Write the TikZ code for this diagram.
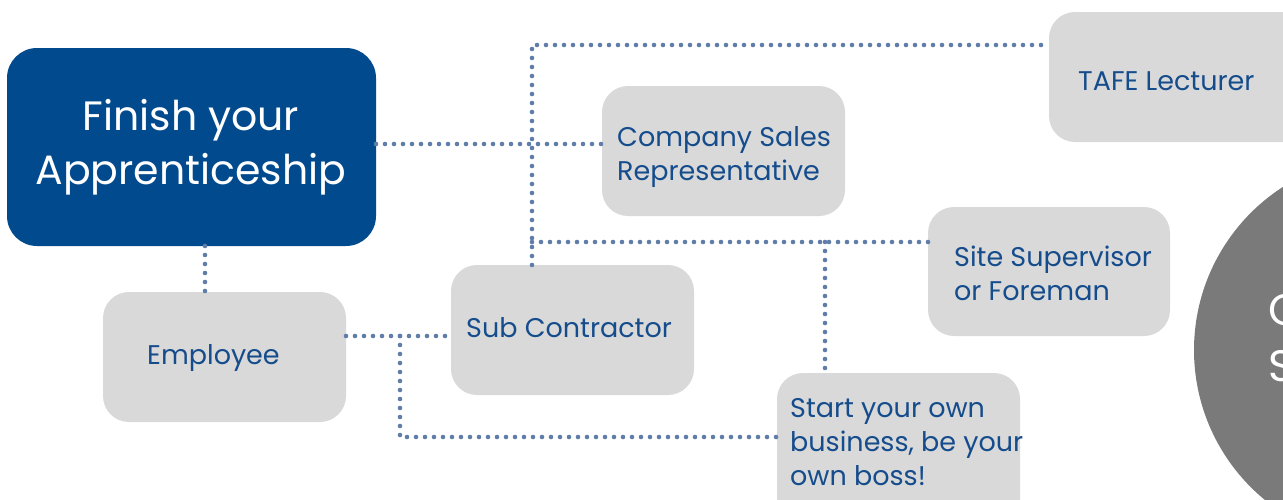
\documentclass[tikz,border=0pt]{standalone}
\usepackage{fontspec}
\setmainfont{Poppins}
\definecolor{navy}{HTML}{024A8E}
\definecolor{txtblue}{HTML}{154C8C}
\definecolor{boxgray}{HTML}{D9D9D9}
\definecolor{dotblue}{HTML}{5F7DA8}
\definecolor{circgray}{HTML}{7A7A7A}
\begin{document}
\begin{tikzpicture}[x=1pt,y=-1pt,
  mainbox/.style={fill=navy,rounded corners=30pt},
  graybox/.style={fill=boxgray,rounded corners=26pt},
  graytext/.style={text=txtblue,font=\fontsize{27}{34}\selectfont,anchor=west,inner sep=0,align=left},
  circtext/.style={anchor=west,text=white,font=\fontsize{44}{50}\selectfont,inner sep=0},
  dots/.style={draw=dotblue,line width=4.6pt,line cap=round,dash pattern=on 0pt off 9pt}]
\useasboundingbox (0,0) rectangle (1283,499);
\clip (0,0) rectangle (1283,499);
% circle
\fill[circgray] (1388,350) circle (194);
\node[circtext] (c1) at (1268,310) {C};
\node[circtext] (c2) at (1268,366) {S};
% boxes
\path[mainbox] (7,48) rectangle (376,246);
\node[text=white,font=\fontsize{41}{54}\selectfont,align=center,inner sep=0] (fin) at (191,147) {Finish your\\Apprenticeship};
\path[graybox] (103,292) rectangle (346,422);
\path[graybox] (451,265) rectangle (694,395);
\path[graybox] (602,86) rectangle (845,216);
\path[graybox] (1049,12) rectangle (1320,142);
\path[graybox] (928,207) rectangle (1170,336);
\path[graybox] (777,373) rectangle (1020,530);
\node[graytext] (emp) at (147,358) {Employee};
\node[graytext] (sub) at (466,328) {Sub Contractor};
\node[graytext] (csr) at (617,157) {Company Sales\\Representative};
\node[graytext] (tafe) at (1078,81) {TAFE Lecturer};
\node[graytext] (site) at (954,273) {Site Supervisor\\or Foreman};
\node[graytext] (own) at (790,442) {Start your own\\business, be your\\own boss!};
% connector coordinates
\coordinate (finE) at (376,144);
\coordinate (csrW) at (602,144);
\coordinate (finS) at (205,246);
\coordinate (empN) at (205,292);
\coordinate (empE) at (346,336);
\coordinate (subW) at (451,336);
\coordinate (j1) at (400,336);
\coordinate (j2) at (400,437);
\coordinate (ownW) at (777,437);
\coordinate (vt) at (532,45);
\coordinate (subN) at (532,265);
\coordinate (tafeW) at (1049,45);
\coordinate (j3) at (532,242);
\coordinate (siteW) at (928,242);
\coordinate (j4) at (825,242);
\coordinate (ownN) at (825,373);
\draw[dots] (finE) -- (csrW);
\draw[dots] (subN) -- (vt) -- (tafeW);
\draw[dots] (j3) -- (siteW);
\draw[dots] (j4) -- (ownN);
\draw[dots] (finS) -- (empN);
\draw[dots] (empE) -- (subW);
\draw[dots] (j1) -- (j2) -- (ownW);
\end{tikzpicture}
\end{document}
